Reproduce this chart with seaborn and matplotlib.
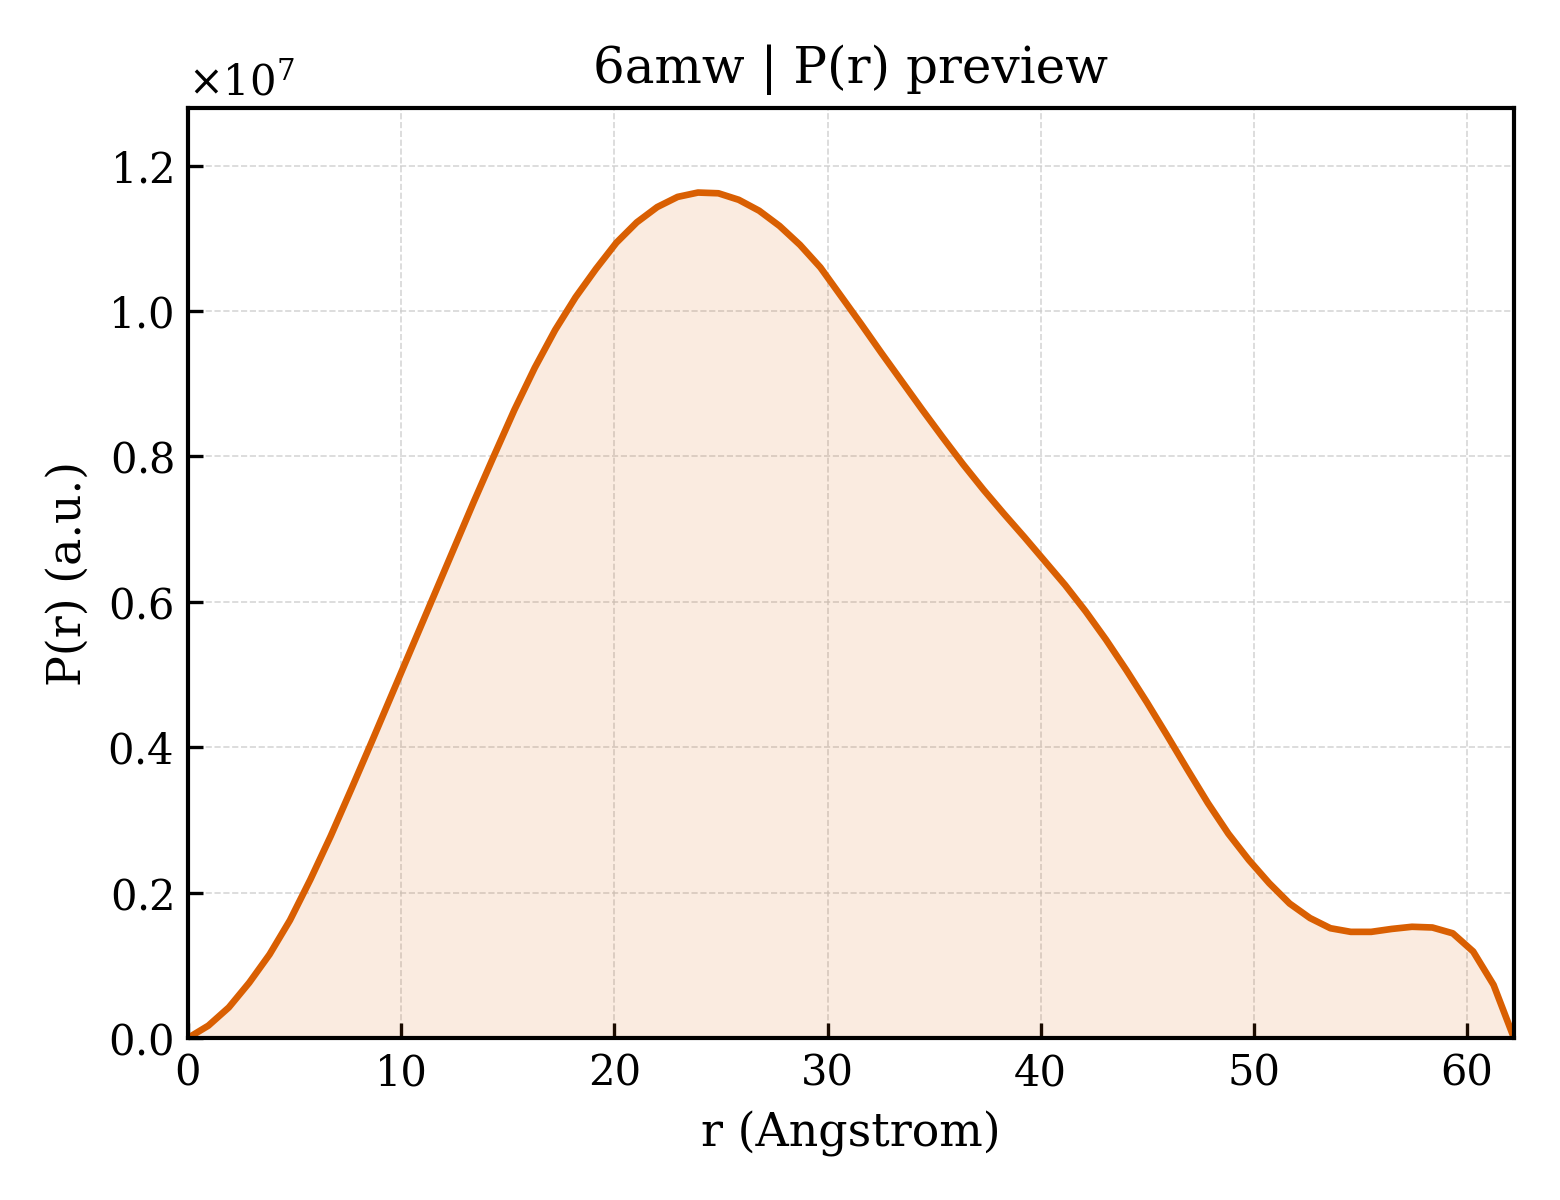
import matplotlib
matplotlib.use("Agg")
import matplotlib.pyplot as plt
import numpy as np
import pandas as pd
import seaborn as sns

dmax = 62.2
pr_scaled = [
    0.000, 0.017, 0.042, 0.076, 0.115, 0.162, 0.218, 0.278, 0.342, 0.407,
    0.473, 0.539, 0.605, 0.671, 0.737, 0.801, 0.864, 0.922, 0.974, 1.019,
    1.058, 1.094, 1.122, 1.143, 1.157, 1.163, 1.162, 1.153, 1.138, 1.117,
    1.091, 1.060, 1.021, 0.982, 0.942, 0.903, 0.864, 0.826, 0.789, 0.754,
    0.721, 0.689, 0.656, 0.623, 0.587, 0.548, 0.506, 0.462, 0.416, 0.369,
    0.323, 0.281, 0.245, 0.213, 0.185, 0.165, 0.151, 0.146, 0.146, 0.150,
    0.153, 0.152, 0.144, 0.119, 0.073, 0.000,
]
r = np.linspace(0, dmax, len(pr_scaled))
pr = np.array(pr_scaled) * 1e7

df = pd.DataFrame({"r": r, "pr": pr})

sns.set_style("ticks")
plt.rcParams["font.family"] = ["DejaVu Serif"]
plt.rcParams["mathtext.fontset"] = "dejavuserif"
for key in ["text.color", "axes.labelcolor", "xtick.color", "ytick.color"]:
    plt.rcParams[key] = "black"

color = "#d95f02"

fig, ax = plt.subplots(figsize=(5.2, 4.0), dpi=300)
fig.subplots_adjust(left=0.1205, right=0.9705, bottom=0.135, top=0.91)

sns.lineplot(data=df, x="r", y="pr", color=color, lw=1.6, ax=ax)
ax.fill_between(df["r"], df["pr"], color=color, alpha=0.12, lw=0)

ax.set_xlim(0, dmax)
ax.set_ylim(0, df["pr"].max() * 1.1)
ax.ticklabel_format(axis="y", style="sci", scilimits=(0, 0), useMathText=True)
ax.yaxis.get_offset_text().set_fontsize(10)

ax.grid(True, ls="--", lw=0.4, color="#cccccc", alpha=0.8)
ax.tick_params(direction="in", labelsize=10, width=0.8, length=3.5, colors="black")
for s in ax.spines.values():
    s.set_linewidth(1.0)
    s.set_color("black")

ax.set_xlabel("r (Angstrom)", fontsize=11, color="black")
ax.set_ylabel("P(r) (a.u.)", fontsize=11, color="black")
ax.set_title("6amw | P(r) preview", fontsize=12, color="black")

fig.savefig("out.png", dpi=300)
plt.close(fig)
